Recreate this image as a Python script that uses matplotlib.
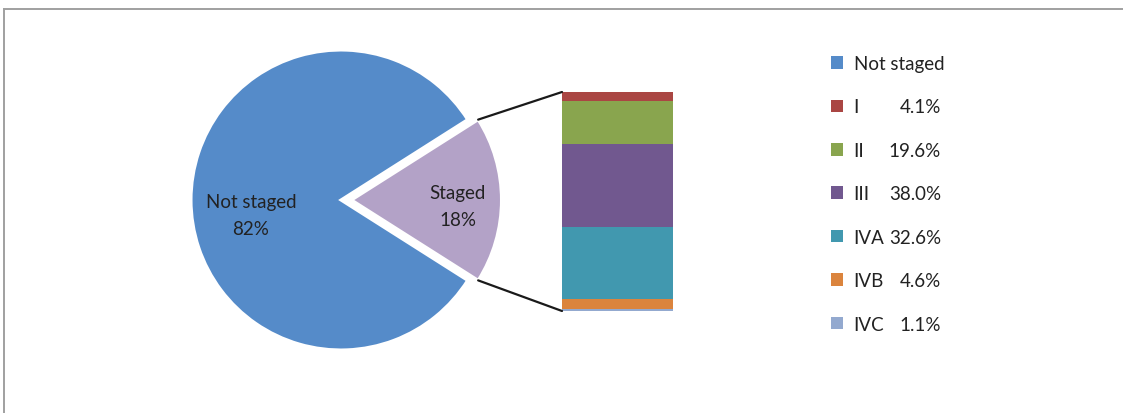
import matplotlib.pyplot as plt
from matplotlib.patches import ConnectionPatch
from matplotlib.lines import Line2D
import numpy as np

plt.rcParams['font.family'] = ['Lato', 'DejaVu Sans']
text_color = '#222222'

W, H = 1123, 414

# data
pie_labels = ['Not staged', 'Staged']
pie_values = [82, 18]
pie_colors = ['#558BC9', '#B3A2C7']

stages = ['I', 'II', 'III', 'IVA', 'IVB', 'IVC']
stage_pct = [4.1, 19.6, 38.0, 32.6, 4.6, 1.1]
stage_colors = ['#AA4643', '#89A54E', '#71588F', '#4198AF', '#DB843D', '#93A9CF']


def px(left, top, width, height):
    # pixel box (from top-left) -> figure fraction rect
    return [left / W, 1 - (top + height) / H, width / W, height / H]


fig = plt.figure(figsize=(W / 100, H / 100), dpi=100)

# pie
r_px = 150
cx, cy = 341, 201
ax1 = fig.add_axes(px(cx - 1.1 * r_px, cy - 1.1 * r_px, 2.4 * r_px, 2.2 * r_px))
wedges, texts = ax1.pie(pie_values, colors=pie_colors, startangle=pie_values[1] * 3.6 / 2,
                        explode=[0, 0.07], labels=[f'{l}\n{v}%' for l, v in zip(pie_labels, pie_values)],
                        labeldistance=0.6,
                        wedgeprops=dict(edgecolor='white', linewidth=2.2),
                        textprops=dict(fontsize=13.5, color=text_color, ha='center', va='center',
                                       linespacing=1.75))
texts[0].set_position((-0.6, -0.1))
texts[1].set_position((0.78, -0.04))
ax1.set_xlim(-1.1, 1.3)
ax1.set_ylim(-1.1, 1.1)
ax1.set_aspect('auto')

# stacked bar of the staged part
ax2 = fig.add_axes(px(562, 93, 111, 219))
bottom = 0
bars = []
for name, val, col in zip(stages, stage_pct, stage_colors):
    b = ax2.bar(0, val, width=1, bottom=bottom, color=col, label=name)
    bars.append(b)
    bottom += val
ax2.set_xlim(-0.5, 0.5)
ax2.set_ylim(sum(stage_pct), 0)
ax2.axis('off')

# connecting lines
w = wedges[1]
cxw, cyw = w.center
for theta, ybar in [(w.theta2, 0), (w.theta1, sum(stage_pct))]:
    x = cxw + w.r * np.cos(np.radians(theta))
    y = cyw + w.r * np.sin(np.radians(theta))
    con = ConnectionPatch(xyA=(-0.5, ybar), coordsA=ax2.transData,
                          xyB=(x, y), coordsB=ax1.transData, color='#1a1a1a', linewidth=1.6)
    fig.add_artist(con)

# legend
handles = [wedges[0]] + [b[0] for b in bars]
labels = [pie_labels[0]] + stages
leg = fig.legend(handles, labels, loc='upper left', bbox_to_anchor=(831 / W, 1 - 56 / H),
                 frameon=False, fontsize=13.5, labelcolor=text_color, borderpad=0, borderaxespad=0,
                 handlelength=0.65, handleheight=0.65, handletextpad=0.55, labelspacing=1.41)
leg.legend_handles[0].set_linewidth(0)

fig.canvas.draw()
inv = fig.transFigure.inverted()
for t, p in zip(leg.get_texts()[1:], stage_pct):
    bb = t.get_window_extent()
    xf, yf = inv.transform((941, (bb.y0 + bb.y1) / 2))
    fig.text(xf, yf, f'{p:.1f}%', ha='right', va='center', fontsize=13.5, color=text_color)

# outer border (top and left only)
fig.add_artist(Line2D([3.5 / W, 1], [1 - 9.5 / H, 1 - 9.5 / H], transform=fig.transFigure,
                      color='#A0A0A0', linewidth=1.4))
fig.add_artist(Line2D([3.5 / W, 3.5 / W], [0, 1 - 9.5 / H], transform=fig.transFigure,
                      color='#A0A0A0', linewidth=1.4))

fig.savefig('out.png', dpi=100)
